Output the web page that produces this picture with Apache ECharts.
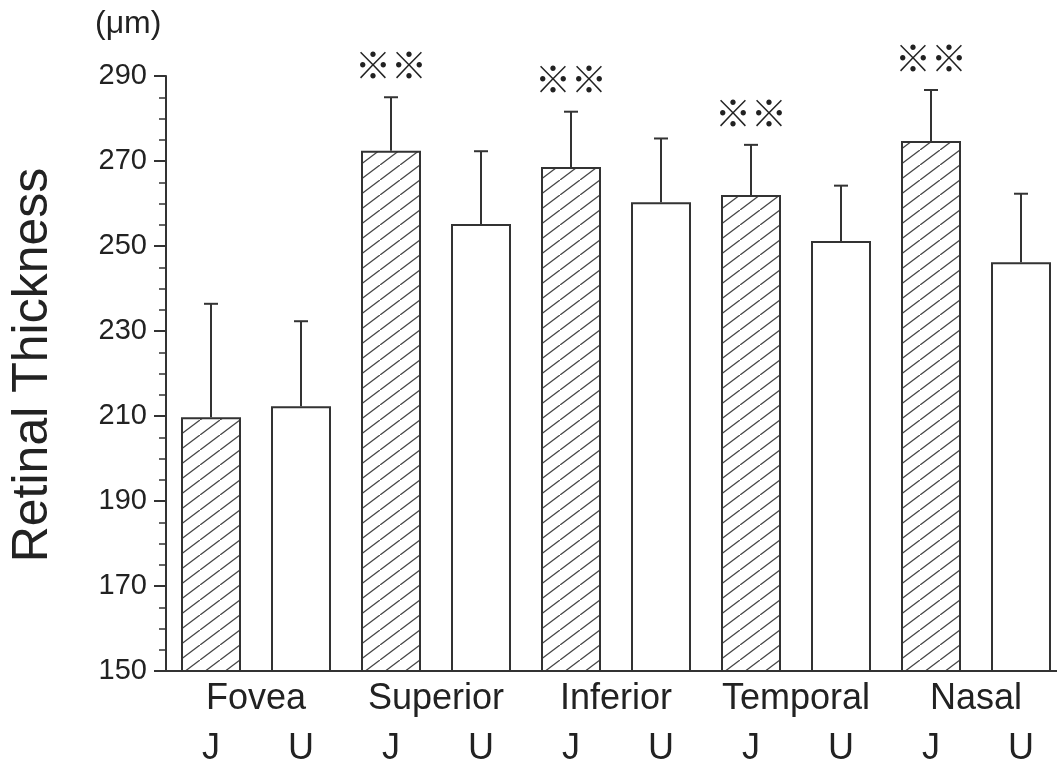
<!DOCTYPE html>
<html>
<head>
<meta charset="utf-8">
<script src="https://cdn.jsdelivr.net/npm/echarts@6/dist/echarts.min.js"></script>
<style>
html,body{margin:0;padding:0;background:#fff;overflow:hidden;width:1057px;height:768px;}
#c{width:1070px;height:768px;}
</style>
</head>
<body>
<div id="c"></div>
<script>
const groups = ['Fovea', 'Superior', 'Inferior', 'Temporal', 'Nasal'];
const subLabels = ['J', 'U'];
const jMean = [209.7, 272.4, 268.6, 262.0, 274.7];
const jSD = [26.7, 12.6, 13.0, 11.8, 12.0];
const uMean = [212.3, 255.2, 260.3, 251.2, 246.2];
const uSD = [20.0, 17.1, 15.0, 13.0, 16.1];
const sigMarks = ['', '※※', '※※', '※※', '※※'];
const yTicks = { min: 150, max: 290, interval: 20 };

// hatch pattern
const pc = document.createElement('canvas');
pc.width = 20; pc.height = 15;
const g = pc.getContext('2d');
g.fillStyle = '#fff'; g.fillRect(0, 0, 20, 15);
g.strokeStyle = '#444'; g.lineWidth = 1.3;
g.beginPath(); g.moveTo(-5, 18.75); g.lineTo(25, -3.75); g.stroke();
const hatch = { image: pc, repeat: 'repeat' };

const cats = [], barData = [], errData = [];
groups.forEach((grp, i) => {
  cats.push(subLabels[0], subLabels[1]);
  barData.push({ value: jMean[i], itemStyle: { color: hatch } });
  barData.push({ value: uMean[i], itemStyle: { color: '#fff' } });
  errData.push([2 * i, jMean[i], jSD[i], sigMarks[i]]);
  errData.push([2 * i + 1, uMean[i], uSD[i], '']);
});

const chart = echarts.init(document.getElementById('c'));
const txt = '#222', ln = '#333';
chart.setOption({
  animation: false,
  backgroundColor: '#fff',
  grid: { left: 166, width: 900, top: 76, bottom: 97 },
  xAxis: [{
    type: 'category', data: cats,
    axisLine: { lineStyle: { color: ln, width: 2 } },
    axisTick: { show: false },
    axisLabel: { color: txt, fontSize: 36, fontFamily: 'Liberation Sans', margin: 60, interval: 0 }
  }, {
    type: 'category', data: groups, position: 'bottom',
    axisLine: { show: false }, axisTick: { show: false },
    axisLabel: { color: txt, fontSize: 36, fontFamily: 'Liberation Sans', margin: 10, interval: 0, hideOverlap: false }
  }],
  yAxis: {
    type: 'value', min: yTicks.min, max: yTicks.max, interval: yTicks.interval,
    axisLine: { show: true, lineStyle: { color: ln, width: 2 } },
    axisTick: { show: true, length: 12, lineStyle: { color: ln, width: 2 } },
    minorTick: { show: true, splitNumber: 4, length: 7, lineStyle: { color: ln, width: 1.5 } },
    splitLine: { show: false },
    axisLabel: { color: txt, fontSize: 29, fontFamily: 'Liberation Sans', margin: 19 }
  },
  graphic: [
    { type: 'text', left: 95, top: 8, style: { text: '(μm)', fontSize: 32, fontFamily: 'Liberation Sans', fill: txt } },
    { type: 'text', x: 33, y: 365, rotation: Math.PI / 2,
      style: { text: 'Retinal Thickness', fontSize: 50, fontFamily: 'Liberation Sans', fill: txt, align: 'center', verticalAlign: 'middle' } }
  ],
  series: [{
    type: 'bar', data: barData, barWidth: 60, xAxisIndex: 0,
    itemStyle: { borderColor: ln, borderWidth: 2 }
  }, {
    type: 'custom', xAxisIndex: 0, data: errData, z: 5,
    encode: { x: 0, y: 1 },
    renderItem: function (params, api) {
      const idx = api.value(0), m = api.value(1), sd = api.value(2);
      const mark = errData[params.dataIndex][3];
      const p0 = api.coord([idx, m]);
      const p1 = api.coord([idx, m + sd]);
      const st = { stroke: ln, lineWidth: 2 };
      const children = [
        { type: 'line', shape: { x1: p0[0], y1: p0[1], x2: p1[0], y2: p1[1] }, style: st },
        { type: 'line', shape: { x1: p1[0] - 7, y1: p1[1], x2: p1[0] + 7, y2: p1[1] }, style: st }
      ];
      if (mark) {
        children.push({ type: 'text', x: p1[0], y: p1[1] - 32,
          style: { text: mark, fontSize: 36, fontFamily: 'Noto Sans CJK JP', fill: txt, align: 'center', verticalAlign: 'middle' } });
      }
      return { type: 'group', children: children };
    }
  }]
});
</script>
</body>
</html>
